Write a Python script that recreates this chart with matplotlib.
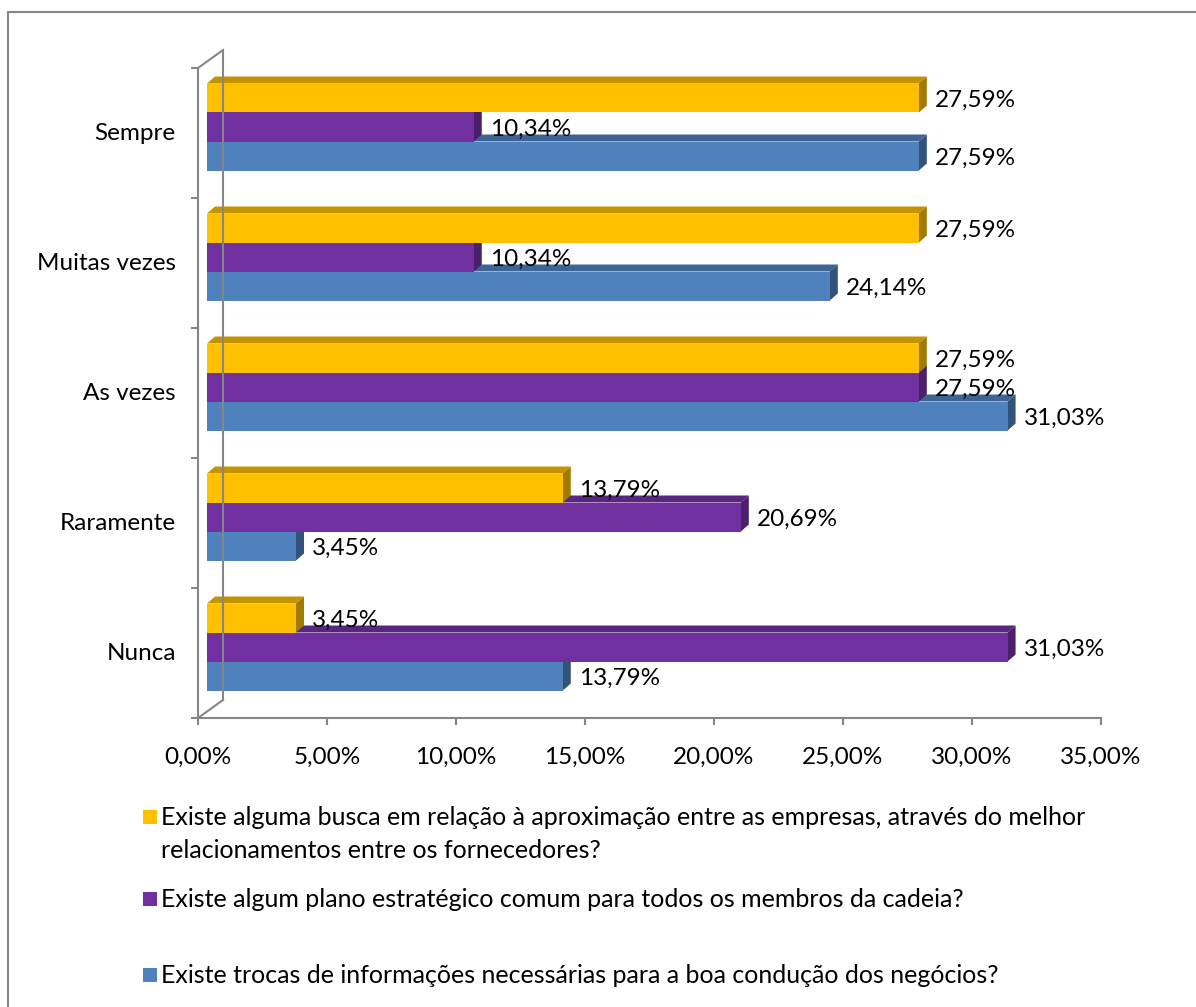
import matplotlib.pyplot as plt
from matplotlib.patches import Polygon, Rectangle
from matplotlib.transforms import ScaledTranslation

plt.rcParams.update({
    "font.family": ["Lato", "DejaVu Sans"],
    "font.size": 17.5,
})

categorias = ["Nunca", "Raramente", "As vezes", "Muitas vezes", "Sempre"]
busca = [3.45, 13.79, 27.59, 27.59, 27.59]
plano = [31.03, 20.69, 27.59, 10.34, 10.34]
trocas = [13.79, 3.45, 31.03, 24.14, 27.59]

legendas = [
    "Existe alguma busca em relação à aproximação entre as empresas, através do melhor\nrelacionamentos entre os fornecedores?",
    "Existe algum plano estratégico comum para todos os membros da cadeia?",
    "Existe trocas de informações necessárias para a boa condução dos negócios?",
]
xticks = [0, 5, 10, 15, 20, 25, 30, 35]

# cores: frente, topo, lateral
CORES = [
    ("#FFC000", "#C39300", "#A37A00"),
    ("#7030A0", "#582580", "#4A1F6C"),
    ("#4F81BD", "#3D6493", "#31527B"),
]

W, H = 1196, 1007
fig = plt.figure(figsize=(W / 100, H / 100), dpi=100)
ax = fig.add_axes([198 / W, 1 - 718 / H, 903 / W, 650 / H])
ax.set_xlim(0, 35)
ax.set_ylim(0, 5)

# profundidade 3D das barras (px convertidos para unidades de dados)
px_x = 35 / 903
px_y = 5 / 650
ddx, ddy = 8 * px_x, 7 * px_y
h = 29 * px_y
frente = ax.transData + ScaledTranslation(9 / 100, 6 / 100, fig.dpi_scale_trans)

series = [busca, plano, trocas]
deslocs = [h, 0.0, -h]

# desenhar de baixo para cima: azul, roxo, amarelo
for k in [2, 1, 0]:
    vals = series[k]
    c_front, c_top, c_side = CORES[k]
    for i, v in enumerate(vals):
        y = i + 0.5 + deslocs[k]
        yt, yb = y + h / 2, y - h / 2
        topo = Polygon([(0, yt), (v, yt), (v + ddx, yt + ddy), (ddx, yt + ddy)],
                       closed=True, fc=c_top, ec="none", transform=frente,
                       clip_on=False, zorder=2)
        lado = Polygon([(v, yb), (v, yt), (v + ddx, yt + ddy), (v + ddx, yb + ddy)],
                       closed=True, fc=c_side, ec="none", transform=frente,
                       clip_on=False, zorder=2)
        ax.add_patch(topo)
        ax.add_patch(lado)
        ax.add_patch(Rectangle((0, yb), v, h, fc=c_front, ec="none",
                               transform=frente, clip_on=False, zorder=2))

# rótulos de valor
for k in range(3):
    for i, v in enumerate(series[k]):
        y = i + 0.5 + deslocs[k]
        ax.annotate(f"{v:.2f}%".replace(".", ","), xy=(v, y), xycoords=frente,
                    xytext=(16, -2), textcoords="offset pixels",
                    ha="left", va="center", fontsize=17.5, zorder=5,
                    annotation_clip=False)

# eixos
cinza = "#868686"
for s in ["top", "right"]:
    ax.spines[s].set_visible(False)
for s in ["left", "bottom"]:
    ax.spines[s].set_color(cinza)
    ax.spines[s].set_linewidth(1.5)

ax.set_xticks(xticks)
ax.set_xticklabels([f"{t:.2f}%".replace(".", ",") for t in xticks])
ax.tick_params(axis="x", length=5, width=1.5, color=cinza, pad=16)

ax.set_yticks(range(6))
ax.set_yticklabels([])
ax.set_yticks([i + 0.5 for i in range(5)], minor=True)
ax.set_yticklabels(categorias, minor=True)
ax.tick_params(axis="y", which="major", length=5, width=1.5, color=cinza)
ax.tick_params(axis="y", which="minor", length=0, pad=16)
for lab in ax.get_yticklabels(minor=True):
    lab.set_va("center")

# parede lateral (perspectiva)
fundo = ax.transData + ScaledTranslation(25 / 100, 18 / 100, fig.dpi_scale_trans)
ax.plot([0, 0], [0, 5], color=cinza, lw=1.5, transform=fundo, clip_on=False)
for yy in (0, 5):
    x0, y0 = ax.transData.transform((0, yy))
    fig.add_artist(plt.Line2D([x0 / W, (x0 + 25) / W], [y0 / H, (y0 + 18) / H],
                              transform=fig.transFigure, color=cinza, lw=1.5))

# legenda
ys_leg = [817, 899, 975]
for k, (txt, yl) in enumerate(zip(legendas, ys_leg)):
    fig.add_artist(Rectangle((143 / W, 1 - (yl + 7) / H), 14 / W, 14 / H,
                             transform=fig.transFigure, fc=CORES[k][0], ec="none"))
    fig.text(161 / W, 1 - (yl - 11) / H, txt, ha="left", va="top",
             fontsize=18, linespacing=1.5)

# moldura do gráfico
fig.add_artist(Rectangle((8 / W, -0.01), 1.0, 1 - 12 / H + 0.01,
                         transform=fig.transFigure, fill=False,
                         ec=cinza, lw=1.5))

fig.savefig("out.png", dpi=100)
